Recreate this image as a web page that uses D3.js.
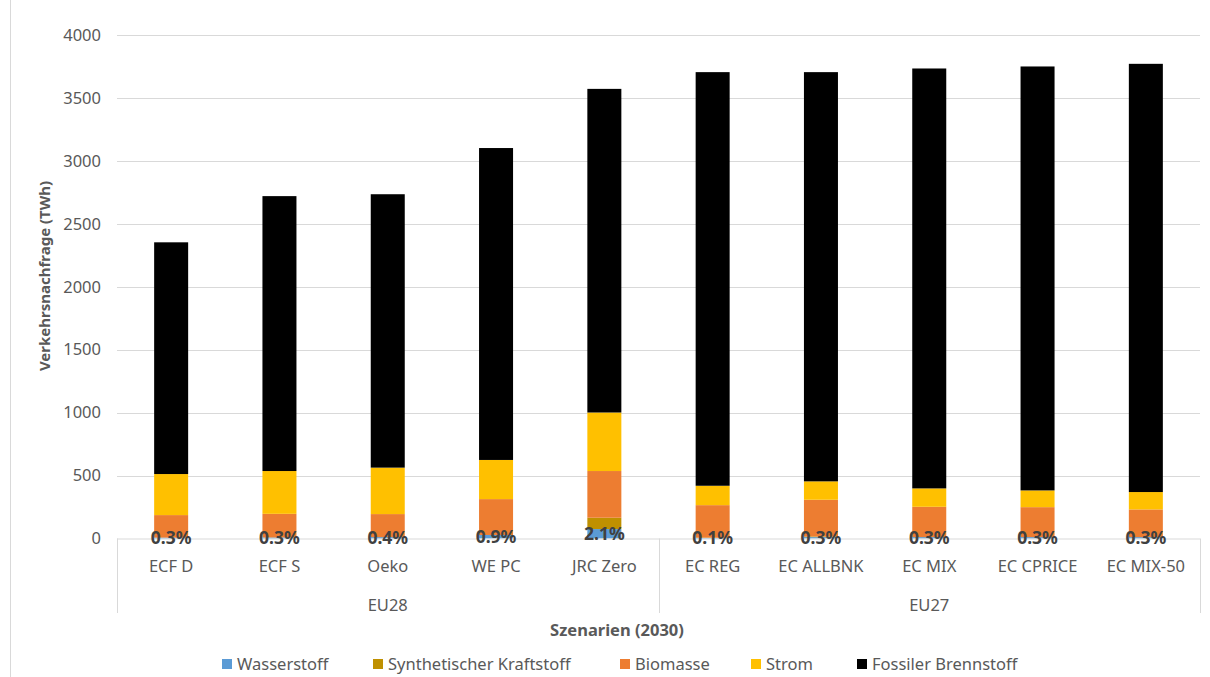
<!DOCTYPE html>
<html><head><meta charset="utf-8">
<script src="https://cdn.jsdelivr.net/npm/d3@7"></script>
<style>body{margin:0;background:#fff}svg{display:block}</style>
</head><body>
<svg id="c" width="1210" height="677"></svg>
<script>
const categories = ["ECF D","ECF S","Oeko","WE PC","JRC Zero","EC REG","EC ALLBNK","EC MIX","EC CPRICE","EC MIX-50"];
const groups = ["EU28","EU28","EU28","EU28","EU28","EU27","EU27","EU27","EU27","EU27"];
const seriesNames = ["Wasserstoff","Synthetischer Kraftstoff","Biomasse","Strom","Fossiler Brennstoff"];
const wasserstoff = [7, 8, 11, 28, 75, 4, 11, 11, 11, 11];
const synthetisch = [0, 0, 0, 0, 90, 3, 5, 0, 0, 0];
const biomasse   = [179, 188, 183, 285, 371, 258, 292, 241, 238, 220];
const strom      = [326, 340, 369, 311, 465, 154, 146, 146, 133, 138];
const fossil     = [1841, 2184, 2172, 2478, 2571, 3286, 3251, 3336, 3368, 3402];
const pctLabels  = ["0.3%","0.3%","0.4%","0.9%","2.1%","0.1%","0.3%","0.3%","0.3%","0.3%"];
const yTicks = [0,500,1000,1500,2000,2500,3000,3500,4000];
const colors = ["#5B9BD5","#BF9000","#ED7D31","#FFC000","#000000"];

const font = "'Noto Sans', sans-serif";
const svg = d3.select("#c");
const L = 117, R = 1200, T = 35, B = 538.5;

const x = d3.scaleBand().domain(categories).range([L, R]).paddingInner(0.686).paddingOuter(0.343);
const y = d3.scaleLinear().domain([0, 4000]).range([B, T]);

// chart border left
svg.append("line").attr("x1",10.5).attr("x2",10.5).attr("y1",0).attr("y2",677).attr("stroke","#d9d9d9");

// gridlines
svg.append("g").selectAll("line").data(yTicks.filter(d=>d>0)).join("line")
  .attr("x1",L).attr("x2",R).attr("y1",d=>Math.round(y(d))+0.5).attr("y2",d=>Math.round(y(d))+0.5)
  .attr("stroke","#d9d9d9").attr("stroke-width",1);

// y axis
const yAxis = d3.axisLeft(y).tickValues(yTicks).tickSize(0).tickPadding(0).tickFormat(d3.format("d"));
const ya = svg.append("g").attr("transform",`translate(${101},0)`).call(yAxis);
ya.select(".domain").remove();
ya.selectAll("text").attr("font-family",font).attr("font-size",16.5).attr("fill","#595959");

// stacked data
const stackData = categories.map((c,i)=>({cat:c, s0:wasserstoff[i], s1:synthetisch[i], s2:biomasse[i], s3:strom[i], s4:fossil[i]}));
const stack = d3.stack().keys(["s0","s1","s2","s3","s4"])(stackData);

svg.append("g").selectAll("g").data(stack).join("g")
  .attr("fill",(d,i)=>colors[i])
  .selectAll("rect").data(d=>d).join("rect")
  .attr("x",d=>x(d.data.cat)).attr("width",x.bandwidth())
  .attr("y",d=>y(d[1])).attr("height",d=>Math.max(0,y(d[0])-y(d[1])));

// category axis box
const axisG = svg.append("g").attr("stroke","#d9d9d9").attr("stroke-width",1);
axisG.append("line").attr("x1",L).attr("x2",R).attr("y1",B+0.5).attr("y2",B+0.5);
const divs = [L, x(categories[5]) - x.step()*x.paddingInner()/2, R];
axisG.selectAll(".v").data(divs).join("line")
  .attr("x1",d=>Math.round(d)+0.5).attr("x2",d=>Math.round(d)+0.5).attr("y1",B).attr("y2",613);

// category labels
const xAxis = d3.axisBottom(x).tickSize(0).tickPadding(0);
const xa = svg.append("g").attr("transform",`translate(0,${B})`).call(xAxis);
xa.select(".domain").remove();
xa.selectAll("text").attr("dy",null).attr("y",33).attr("font-family",font).attr("font-size",16.5).attr("fill","#595959");

// group labels
const groupNames = Array.from(new Set(groups));
svg.append("g").selectAll("text").data(groupNames).join("text")
  .attr("x",g=>{const cs=categories.filter((c,i)=>groups[i]===g); return (x(cs[0])+x(cs[cs.length-1])+x.bandwidth())/2;})
  .attr("y",611).attr("text-anchor","middle").attr("font-family",font).attr("font-size",16.5).attr("fill","#595959").text(d=>d);

// percent labels
svg.append("g").selectAll("text").data(stack[0]).join("text")
  .attr("x",d=>x(d.data.cat)+x.bandwidth()/2)
  .attr("y",d=>(y(d[0])+y(d[1]))/2).attr("dy","0.35em")
  .attr("text-anchor","middle").attr("font-family",font).attr("font-size",17.5).attr("font-weight","bold").attr("fill","#404040")
  .text((d,i)=>pctLabels[i]);

// axis titles
svg.append("text").attr("transform","translate(50,276) rotate(-90)").attr("text-anchor","middle")
  .attr("font-family",font).attr("font-size",15).attr("font-weight","bold").attr("fill","#595959").text("Verkehrsnachfrage (TWh)");
svg.append("text").attr("x",617).attr("y",636).attr("text-anchor","middle")
  .attr("font-family",font).attr("font-size",16.5).attr("font-weight","bold").attr("fill","#595959").text("Szenarien (2030)");

// legend
const legX = [222, 373, 620, 751, 857];
const lg = svg.append("g").selectAll("g").data(seriesNames).join("g")
  .attr("transform",(d,i)=>`translate(${legX[i]},659)`);
lg.append("rect").attr("width",10).attr("height",10).attr("fill",(d,i)=>colors[i]);
lg.append("text").attr("x",15).attr("y",5).attr("dy","0.36em").attr("font-family",font).attr("font-size",16.5).attr("fill","#595959").text(d=>d);
</script>
</body></html>
